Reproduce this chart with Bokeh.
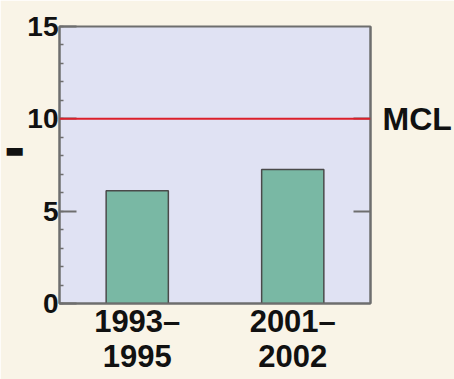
from bokeh.plotting import figure
from bokeh.models import (Range1d, LinearAxis, FixedTicker, Span, ColumnDataSource)
from bokeh.embed import file_html
from bokeh.resources import INLINE

periods = ["1993–\n1995", "2001–\n2002"]
values = [6.1, 7.25]
positions = [1, 3]
mcl = 10
y_ticks = [0, 5, 10, 15]

FONT = "Liberation Sans"
BG = "#f9f4e7"
GREY = "#6e6e6e"

p = figure(width=454, height=379, output_backend="svg", toolbar_location=None,
           x_range=Range1d(0, 4), y_range=Range1d(0, 15),
           min_border_left=59, min_border_right=82, min_border_top=26, min_border_bottom=76)
p.background_fill_color = "#e0e2f3"
p.border_fill_color = BG
p.outline_line_color = GREY
p.outline_line_width = 2
p.grid.visible = False

src = ColumnDataSource(dict(x=positions, top=values))
p.vbar(x="x", top="top", width=0.8, source=src, fill_color="#79b8a4",
       line_color="#4a4a4a", line_width=1.5)

p.add_layout(Span(location=mcl, dimension="width", line_color="#dc1f2a", line_width=2))

# y axis
ya = p.yaxis[0]
ya.ticker = FixedTicker(ticks=y_ticks, minor_ticks=list(range(0, 16)))
ya.major_tick_in = 17
ya.major_tick_out = 0
ya.minor_tick_in = 4
ya.minor_tick_out = 0
ya.major_tick_line_color = GREY
ya.major_tick_line_width = 2
ya.minor_tick_line_color = GREY
ya.minor_tick_line_width = 1.5
ya.axis_line_color = GREY
ya.axis_line_width = 2
ya.major_label_text_font = FONT
ya.major_label_text_font_style = "bold"
ya.major_label_text_font_size = "28px"
ya.major_label_text_color = "#111111"
ya.major_label_standoff = 1

# stray dash at the far left (decoration from the source image)
da = LinearAxis(ticker=FixedTicker(ticks=[8.3], minor_ticks=[]))
da.major_label_overrides = {8.3: "▬"}
da.major_label_text_font = "DejaVu Sans"
da.major_label_text_font_size = "21px"
da.major_label_text_color = "#111111"
da.major_label_standoff = 0
da.major_tick_in = 0
da.major_tick_out = 0
da.major_tick_line_color = None
da.minor_tick_line_color = None
da.axis_line_color = None
p.add_layout(da, "left")

# right axis: tick at 5 and the MCL label at 10
ra = LinearAxis(ticker=FixedTicker(ticks=[5, mcl], minor_ticks=[]))
ra.major_label_overrides = {5: "", mcl: "MCL"}
ra.major_tick_in = 17
ra.major_tick_out = 0
ra.major_tick_line_color = GREY
ra.major_tick_line_width = 2
ra.minor_tick_line_color = None
ra.axis_line_color = GREY
ra.axis_line_width = 2
ra.major_label_text_font = FONT
ra.major_label_text_font_style = "bold"
ra.major_label_text_font_size = "32px"
ra.major_label_text_color = "#111111"
ra.major_label_standoff = 12
p.add_layout(ra, "right")

# x axis
xa = p.xaxis[0]
xa.ticker = FixedTicker(ticks=positions, minor_ticks=[])
xa.major_label_overrides = {pos: lab for pos, lab in zip(positions, periods)}
xa.major_tick_in = 0
xa.major_tick_out = 0
xa.minor_tick_line_color = None
xa.axis_line_color = GREY
xa.axis_line_width = 2
xa.major_label_text_font = FONT
xa.major_label_text_font_style = "bold"
xa.major_label_text_font_size = "31px"
xa.major_label_text_color = "#111111"
xa.major_label_text_line_height = 1.0
xa.major_label_standoff = 0

open("out.html", "w").write(file_html(p, INLINE))
